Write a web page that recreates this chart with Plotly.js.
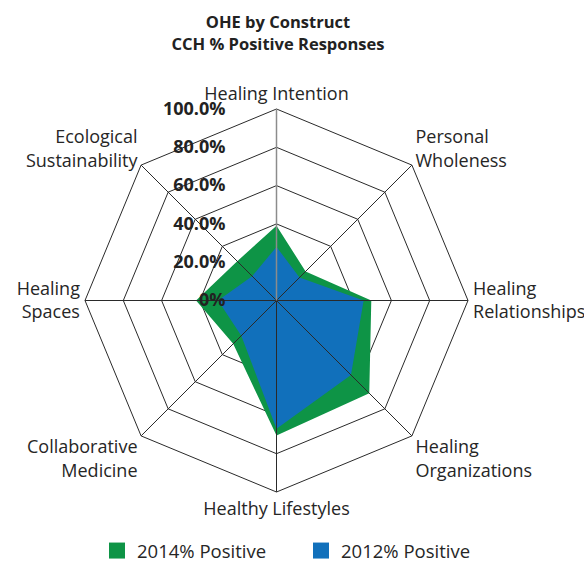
<!DOCTYPE html>
<html>
<head>
<meta charset="utf-8">
<script src="https://cdn.plot.ly/plotly-3.0.1.min.js"></script>
<style>html,body{margin:0;padding:0;background:#fff;}#chart{width:584px;height:564px;}</style>
</head>
<body>
<div id="chart"></div>
<script>
const categories = [
  "Healing Intention",
  "Personal<br>Wholeness",
  "Healing<br>Relationships",
  "Healing<br>Organizations",
  "Healthy Lifestyles",
  "Collaborative<br>Medicine",
  "Healing<br>Spaces",
  "Ecological<br>Sustainability"
];
const positive2014 = [39, 21.5, 49.5, 68.5, 70.5, 32, 42, 29];
const positive2012 = [28, 17, 45.5, 55, 67, 26, 30.5, 18];
const radialTickVals = [0, 20, 40, 60, 80, 100];
const radialTickText = ["0%", "20.0%", "40.0%", "60.0%", "80.0%", "100.0%"];
const seriesNames = ["2014% Positive", "2012% Positive"];

const green = "#0e9446";
const blue = "#1170bb";
const rMax = radialTickVals[radialTickVals.length - 1];

// spokes drawn above fills, built from categories
const spokeR = [], spokeT = [];
categories.forEach(c => { spokeR.push(0, rMax, null); spokeT.push(c, c, null); });

const traces = [
  {type: "scatterpolar", r: positive2014, theta: categories, name: seriesNames[0], showlegend: false,
   fill: "toself", fillcolor: green, mode: "lines", line: {width: 0, color: green}, hoverinfo: "skip"},
  {type: "scatterpolar", r: positive2012, theta: categories, name: seriesNames[1], showlegend: false,
   fill: "toself", fillcolor: blue, mode: "lines", line: {width: 0, color: blue}, hoverinfo: "skip"},
  {type: "scatterpolar", r: spokeR, theta: spokeT, mode: "lines", showlegend: false,
   line: {color: "#2a2a2a", width: 1}, hoverinfo: "skip", connectgaps: false},
  // legend-only entries (square swatches)
  {type: "scatterpolar", r: [null], theta: [null], name: seriesNames[0], mode: "markers", legend: "legend",
   marker: {symbol: "square", size: 18, color: green}, hoverinfo: "skip"},
  {type: "scatterpolar", r: [null], theta: [null], name: seriesNames[1], mode: "markers", legend: "legend2",
   marker: {symbol: "square", size: 18, color: blue}, hoverinfo: "skip"}
];

const legendBase = {
  orientation: "h", xref: "container", xanchor: "left",
  yref: "container", y: 0.023, yanchor: "middle",
  font: {size: 18.5, color: "#262626", family: "Open Sans, sans-serif"},
  itemsizing: "trace", bgcolor: "rgba(0,0,0,0)", borderwidth: 0
};

const layout = {
  width: 584, height: 564,
  margin: {l: 20, r: 20, t: 109, b: 72, autoexpand: false},
  paper_bgcolor: "#fff",
  font: {family: "Open Sans, sans-serif", color: "#262626", size: 18},
  title: {
    text: "OHE by Construct<br>CCH % Positive Responses",
    font: {family: "Open Sans, sans-serif", size: 16.5, weight: "bold", color: "#222"},
    x: 278 / 584, xref: "container", xanchor: "center", y: 0.95, yref: "container", yanchor: "top"
  },
  polar: {
    gridshape: "linear",
    bgcolor: "#fff",
    domain: {x: [65 / 544, 448 / 544], y: [0, 1]},
    angularaxis: {
      direction: "clockwise", rotation: 90,
      type: "category",
      categoryarray: categories, categoryorder: "array",
      showline: true, linecolor: "#2a2a2a", linewidth: 1,
      showgrid: false,
      ticks: "outside", ticklen: 1, tickcolor: "rgba(0,0,0,0)",
      tickfont: {size: 18, color: "#262626", family: "Open Sans, sans-serif"}
    },
    radialaxis: {
      range: [0, rMax], angle: 90, side: "counterclockwise", tickangle: 90,
      tickvals: radialTickVals, ticktext: radialTickText,
      showline: true, linecolor: "#8c8c8c", linewidth: 1.5,
      showgrid: true, gridcolor: "#2a2a2a", gridwidth: 1,
      ticks: "outside", ticklen: 44, tickcolor: "rgba(0,0,0,0)",
      tickfont: {size: 18, color: "#222", family: "Open Sans, sans-serif", weight: "bold"}
    }
  },
  showlegend: true,
  legend: Object.assign({}, legendBase, {x: 97 / 584}),
  legend2: Object.assign({}, legendBase, {x: 301 / 584})
};

Plotly.newPlot("chart", traces, layout, {displayModeBar: false, staticPlot: true});
</script>
</body>
</html>
